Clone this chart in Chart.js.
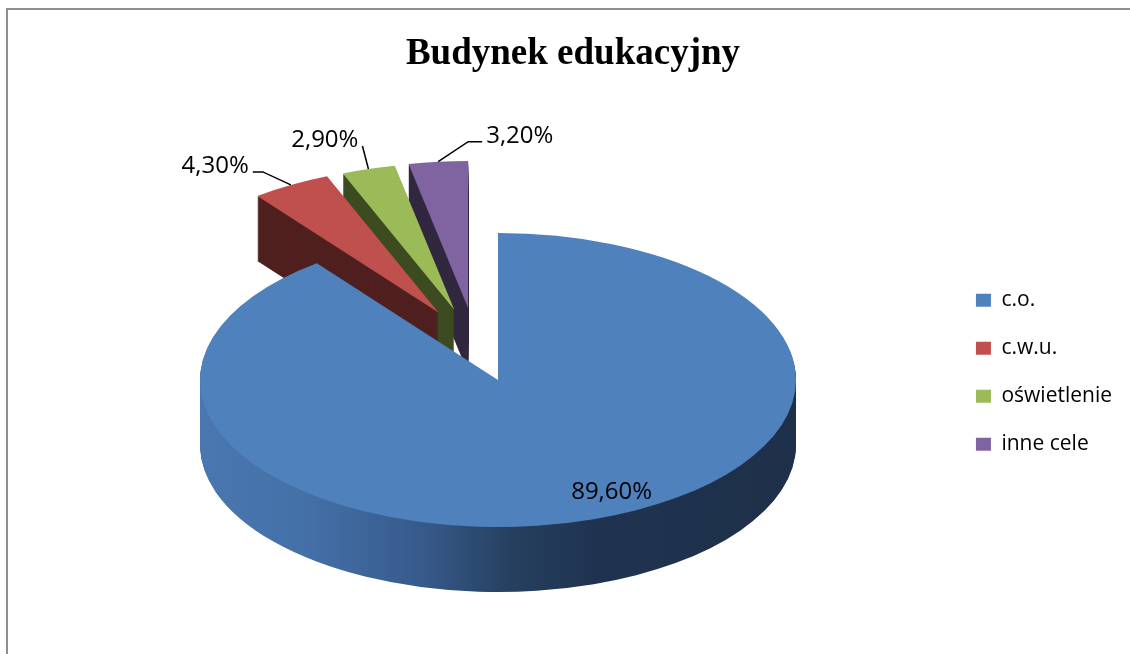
<!DOCTYPE html>
<html lang="pl">
<head>
<meta charset="utf-8">
<title>Budynek edukacyjny</title>
<script src="https://cdn.jsdelivr.net/npm/chart.js@4.4.1/dist/chart.umd.min.js"></script>
<style>
  html, body { margin: 0; padding: 0; background: #fff; }
  #wrap { position: relative; width: 1130px; height: 654px; overflow: hidden; }
  #ramka {
    position: absolute; left: 6px; top: 8px; width: 1200px; height: 700px;
    border-left: 2px solid #8e8e8e; border-top: 2px solid #8e8e8e;
  }
  #wykres { position: absolute; left: 0; top: 0; }
</style>
</head>
<body>
<div id="wrap">
  <div id="ramka"></div>
  <canvas id="wykres" width="1130" height="654"></canvas>
</div>
<script>
// zużycie energii wg celu (%)
const kategorie = ['c.o.', 'c.w.u.', 'oświetlenie', 'inne cele'];
const udzialy = [89.6, 4.3, 2.9, 3.2];

const koloryGora = ['#4f81bd', '#c0504d', '#9bbb59', '#8064a2'];
const koloryBoku = [null, '#4f201f', '#3d4b21', '#32283f'];

// rzut elipsy na ekranie + grubość "placka"
const ELIPSA = { cx: 498, cy: 380, rx: 298, ry: 147, glebokosc: 65 };
// wysunięcie wycinków (ułamek promienia)
const WYSUNIECIE = [0, 0.5, 0.5, 0.5];
// kierunek wysunięcia: pół na pół własna dwusieczna i wspólny kierunek grupy
const SKUPIENIE = 0.5;
// położenie etykiet względem środka zewnętrznej krawędzi wycinka
const ODNOSNIKI = [
  { dx: 18, dy: -27 },
  { lamanie: [-28, -13], koniec: [-38, -13], strona: 'right' },
  { lamanie: [-6, -23], koniec: [-6, -23], strona: 'right' },
  { lamanie: [30, -20], koniec: [44, -20], strona: 'left' }
];

function formatuj(v) {
  return v.toFixed(2).replace('.', ',') + '%';
}

// gradient boku dużego wycinka - jasny z lewej, ciemny z prawej
function gradientBoku(ctx, luk) {
  const r = luk.outerRadius;
  const g = ctx.createLinearGradient(luk.x - r, 0, luk.x + r, 0);
  g.addColorStop(0, '#4a77b0');
  g.addColorStop(0.18, '#4470a8');
  g.addColorStop(0.38, '#36598a');
  g.addColorStop(0.52, '#26405f');
  g.addColorStop(0.66, '#1f3350');
  g.addColorStop(1, '#1e3049');
  return g;
}

function katWysuniecia(luki, i) {
  const wlasny = (luki[i].startAngle + luki[i].endAngle) / 2;
  const grupa = luki.filter((l, j) => WYSUNIECIE[j] > 0);
  if (!grupa.length) return wlasny;
  const wspolny = grupa.reduce((s, l) => s + (l.startAngle + l.endAngle) / 2, 0) / grupa.length;
  return wlasny + (wspolny - wlasny) * SKUPIENIE;
}

function przesuniecie(luki, i) {
  const kat = katWysuniecia(luki, i);
  return { x: Math.cos(kat) * WYSUNIECIE[i], y: Math.sin(kat) * WYSUNIECIE[i] };
}

function ustawPerspektywe(ctx, luki, i, k) {
  const luk = luki[i];
  const r = luk.outerRadius;
  const p = przesuniecie(luki, i);
  ctx.translate(ELIPSA.cx, ELIPSA.cy + k);
  ctx.scale(ELIPSA.rx / r, ELIPSA.ry / r);
  ctx.translate(-luk.x + p.x * r, -luk.y + p.y * r);
}

function rysujWycinek(ctx, luki, i, k, bok) {
  const luk = luki[i];
  ctx.save();
  ustawPerspektywe(ctx, luki, i, k);
  let el = luk;
  if (bok) {
    el = Object.create(luk);
    const kolor = koloryBoku[i] || gradientBoku(ctx, luk);
    el.options = Object.assign({}, luk.options, { backgroundColor: kolor });
  }
  el.draw(ctx);
  ctx.restore();
}

const pie3d = {
  id: 'pie3d',
  beforeDatasetsDraw(chart) {
    const ctx = chart.ctx;
    const luki = chart.getDatasetMeta(0).data;
    // najpierw boki (od dołu), potem wierzch
    for (let k = ELIPSA.glebokosc; k >= 1; k--) {
      luki.forEach((luk, i) => rysujWycinek(ctx, luki, i, k, true));
    }
    luki.forEach((luk, i) => rysujWycinek(ctx, luki, i, 0, false));
    return false;
  },
  afterDraw(chart) {
    const ctx = chart.ctx;
    const luki = chart.getDatasetMeta(0).data;
    ctx.save();
    ctx.font = '24px "Open Sans"';
    ctx.fillStyle = '#000';
    ctx.strokeStyle = '#000';
    ctx.lineWidth = 1.5;
    ctx.textBaseline = 'middle';
    luki.forEach((luk, i) => {
      const srodek = (luk.startAngle + luk.endAngle) / 2;
      const p = przesuniecie(luki, i);
      const ax = ELIPSA.cx + (Math.cos(srodek) + p.x) * ELIPSA.rx;
      const ay = ELIPSA.cy + (Math.sin(srodek) + p.y) * ELIPSA.ry;
      const o = ODNOSNIKI[i];
      const tekst = formatuj(udzialy[i]);
      if (!o.koniec) {
        ctx.textAlign = 'center';
        ctx.fillText(tekst, ax + o.dx, ay + o.dy);
        return;
      }
      const ex = ax + o.koniec[0], ey = ay + o.koniec[1];
      ctx.beginPath();
      ctx.moveTo(ax, ay);
      ctx.lineTo(ax + o.lamanie[0], ay + o.lamanie[1]);
      ctx.lineTo(ex, ey);
      ctx.stroke();
      ctx.textAlign = o.strona;
      ctx.fillText(tekst, o.strona === 'right' ? ex - 4 : ex + 4, ey - 6);
    });
    ctx.restore();
  }
};

new Chart(document.getElementById('wykres'), {
  type: 'pie',
  data: {
    labels: kategorie,
    datasets: [{
      data: udzialy,
      backgroundColor: koloryGora,
      borderWidth: 0,
      clip: false
    }]
  },
  options: {
    responsive: false,
    animation: false,
    devicePixelRatio: 1,
    layout: { padding: { left: 24, right: 8, top: 8, bottom: 4 } },
    plugins: {
      title: {
        display: true,
        text: 'Budynek edukacyjny',
        color: '#000',
        font: { family: 'Liberation Serif', size: 37, weight: 'bold' },
        padding: { top: 24, bottom: 18 }
      },
      legend: {
        position: 'right',
        align: 'center',
        fullSize: false,
        labels: {
          boxWidth: 15,
          boxHeight: 13,
          padding: 27,
          color: '#000',
          font: { family: 'Open Sans', size: 21 }
        }
      },
      tooltip: { enabled: false }
    }
  },
  plugins: [pie3d]
});
</script>
</body>
</html>
